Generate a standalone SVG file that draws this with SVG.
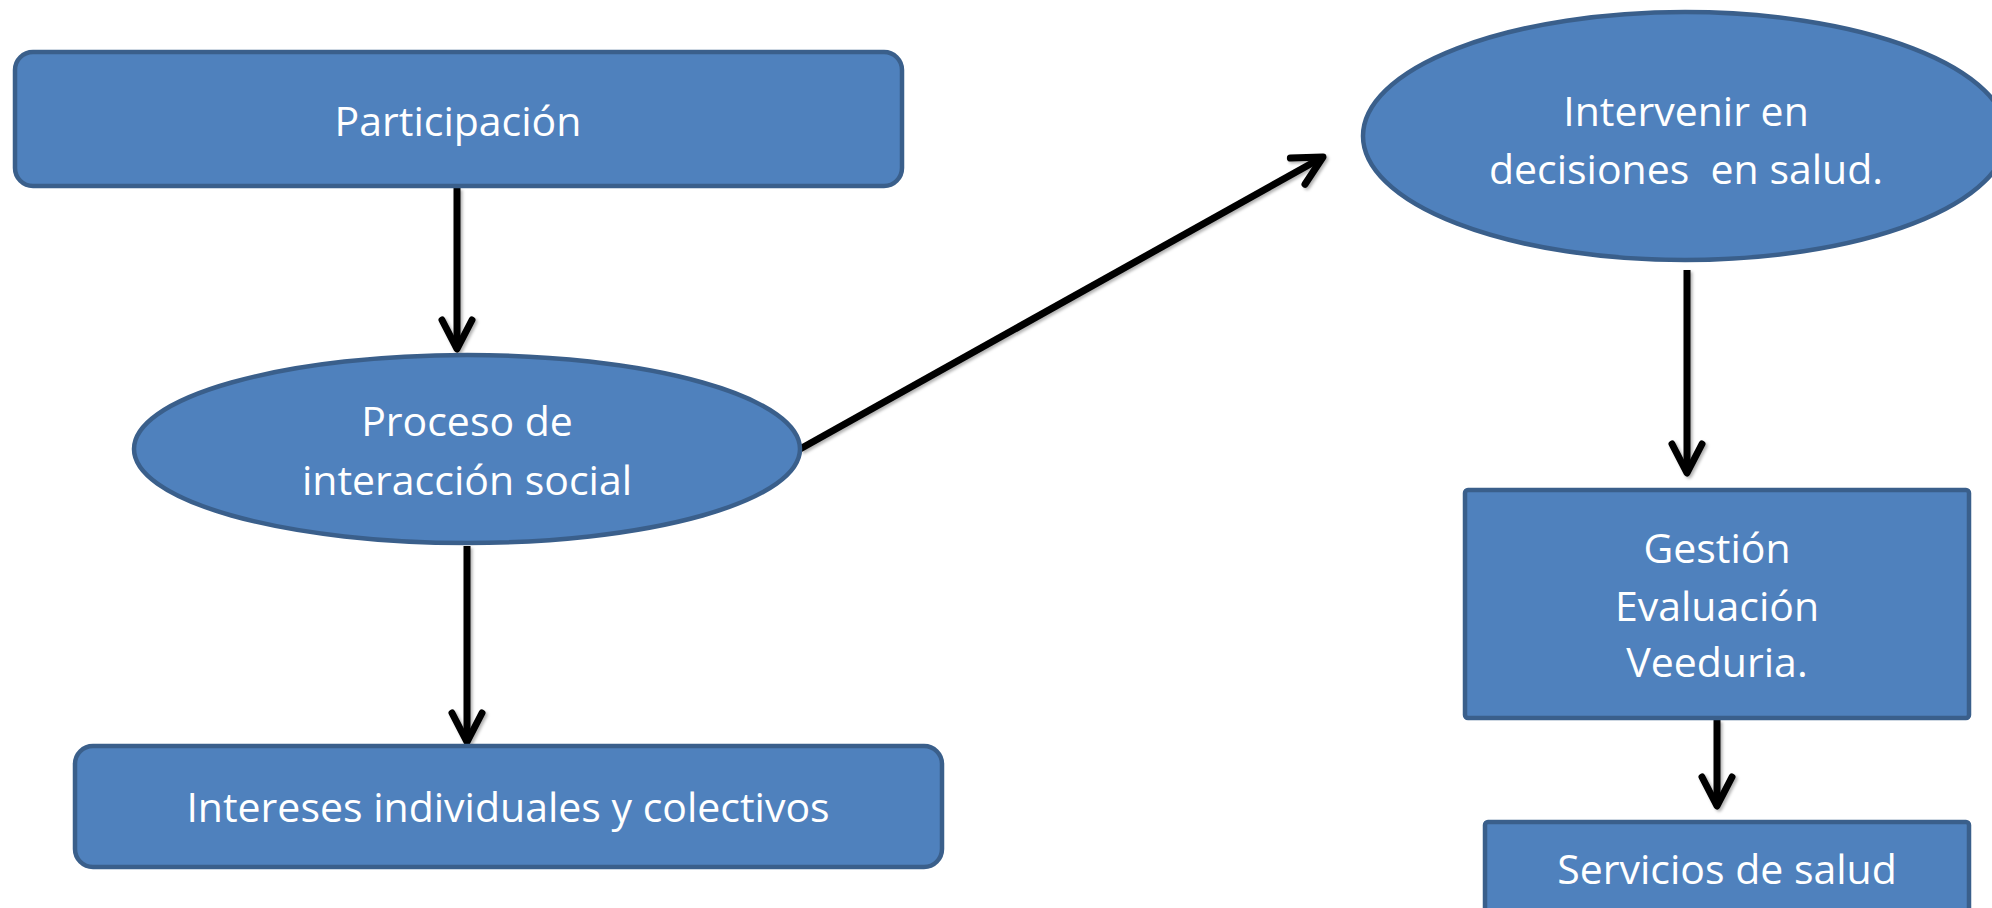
<svg xmlns="http://www.w3.org/2000/svg" width="1992" height="908" viewBox="0 0 1992 908">
  <style>
    .node { fill: #4f81bd; stroke: #3a5f8b; stroke-width: 4.5; }
    .label { font-family: "Open Sans", "Noto Sans", "Liberation Sans", sans-serif; font-size: 41px; fill: #ffffff; text-anchor: middle; }
    .edge { stroke: #000000; stroke-width: 7; fill: none; marker-end: url(#chevron); }
  </style>
  <defs>
    <marker id="chevron" markerUnits="userSpaceOnUse" viewBox="-40 -22 46 44" refX="0" refY="0" markerWidth="46" markerHeight="44" orient="auto" overflow="visible">
      <path d="M -29,-15 L 0,0 L -29,15" fill="none" stroke="#000000" stroke-width="7" stroke-linecap="round" stroke-linejoin="round"/>
    </marker>
    <filter id="shade" x="-10%" y="-10%" width="120%" height="120%">
      <feDropShadow dx="2" dy="2" stdDeviation="1.5" flood-color="#000000" flood-opacity="0.3"/>
    </filter>
  </defs>

  <rect width="1992" height="908" fill="#ffffff"/>

  <!-- connectors -->
  <g id="connectors" filter="url(#shade)">
    <line class="edge" x1="457" y1="188" x2="457" y2="349"/>
    <line class="edge" x1="467" y1="546" x2="467" y2="742"/>
    <line class="edge" x1="800" y1="449" x2="1323" y2="157"/>
    <line class="edge" x1="1687" y1="270" x2="1687" y2="473"/>
    <line class="edge" x1="1717" y1="720" x2="1717" y2="806"/>
  </g>

  <!-- nodes -->
  <g id="participacion">
    <rect class="node" x="15" y="52" width="887" height="134" rx="18"/>
    <text class="label" x="458" y="136">Participación</text>
  </g>

  <g id="proceso">
    <ellipse class="node" cx="467" cy="449" rx="333" ry="94"/>
    <text class="label" x="467" y="436">Proceso de</text>
    <text class="label" x="467" y="495">interacción social</text>
  </g>

  <g id="intereses">
    <rect class="node" x="75" y="746" width="867" height="121" rx="18"/>
    <text class="label" x="508" y="822">Intereses individuales y colectivos</text>
  </g>

  <g id="intervenir">
    <ellipse class="node" cx="1685" cy="136" rx="322" ry="124"/>
    <text class="label" x="1686" y="126">Intervenir en</text>
    <text class="label" x="1686" y="184">decisiones&#160; en salud.</text>
  </g>

  <g id="gestion">
    <rect class="node" x="1465" y="490" width="504" height="228" rx="3"/>
    <text class="label" x="1717" y="563">Gestión</text>
    <text class="label" x="1717" y="621">Evaluación</text>
    <text class="label" x="1717" y="677">Veeduria.</text>
  </g>

  <g id="servicios">
    <rect class="node" x="1485" y="822" width="484" height="120" rx="3"/>
    <text class="label" x="1727" y="884">Servicios de salud</text>
  </g>
</svg>
